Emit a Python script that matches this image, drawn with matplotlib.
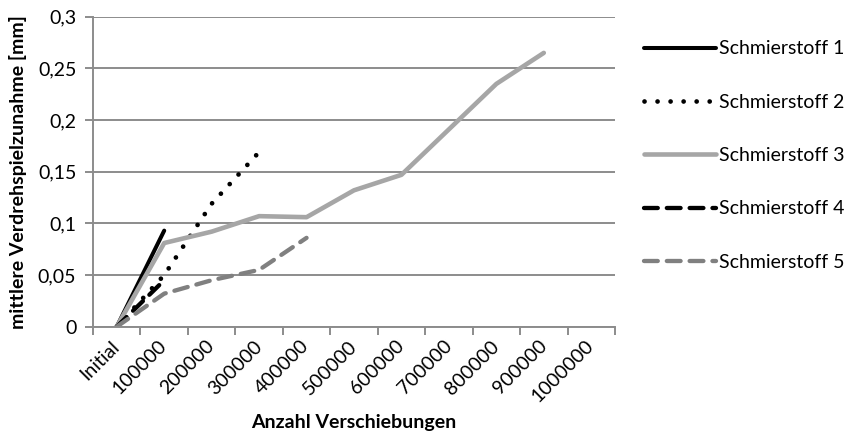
import matplotlib
matplotlib.use("Agg")
import matplotlib.pyplot as plt
import numpy as np

# category axis (Excel style: values sit in the middle of each category)
categories = ["Initial", "100000", "200000", "300000", "400000", "500000",
              "600000", "700000", "800000", "900000", "1000000"]

schmier_1 = [0, 0.093]
schmier_2 = [0, 0.050, 0.119, 0.169]
schmier_3 = [0, 0.081, 0.092, 0.107, 0.106, 0.132, 0.147, 0.191, 0.235, 0.265]
schmier_4 = [0, 0.045]
schmier_5 = [0, 0.032, 0.045, 0.055, 0.086]

y_ticks = [0, 0.05, 0.1, 0.15, 0.2, 0.25, 0.3]
y_tick_labels = ["0", "0,05", "0,1", "0,15", "0,2", "0,25", "0,3"]

GRID = "#8C8C8C"
LIGHT = "#A6A6A6"
MID = "#808080"

plt.rcParams.update({
    "font.family": ["Lato", "DejaVu Sans"],
    "font.size": 14,
})

SERIES = [
    ("Schmierstoff 1", schmier_1, dict(color="black", lw=2.9, ls="-")),
    ("Schmierstoff 2", schmier_2, dict(color="black", lw=3.4, ls=(0, (0.01, 2.75)),
                                       dash_capstyle="round")),
    ("Schmierstoff 3", schmier_3, dict(color=LIGHT, lw=3.3, ls="-")),
    ("Schmierstoff 4", schmier_4, dict(color="black", lw=3.1, ls=(0, (3.2, 2.1)),
                                       dash_capstyle="round")),
    ("Schmierstoff 5", schmier_5, dict(color=MID, lw=3.1, ls=(0, (3.2, 2.1)),
                                       dash_capstyle="round")),
]

fig = plt.figure(figsize=(8.52, 4.34), dpi=100)
ax = fig.add_axes([0.1092, 0.2472, 0.6126, 0.7143])

for label, vals, style in SERIES:
    ax.plot(np.arange(len(vals)), vals, label=label, solid_capstyle="round",
            solid_joinstyle="round", **style)

ax.set_xlim(-0.5, len(categories) - 0.5)
ax.set_ylim(0, 0.3)

ax.set_yticks(y_ticks)
ax.set_yticklabels(y_tick_labels)
ax.yaxis.grid(True, color=GRID, lw=1.4)
ax.set_axisbelow(True)

# ticks on category boundaries, labels in the middle
ax.set_xticks(np.arange(-0.5, len(categories)), minor=False)
ax.set_xticklabels([])
ax.set_xticks(np.arange(len(categories)), minor=True)
ax.set_xticklabels(categories, minor=True, rotation=45, ha="right",
                   va="center", rotation_mode="anchor")
ax.tick_params(axis="x", which="minor", length=0, pad=12)
ax.tick_params(axis="x", which="major", length=6, width=1.4, color=GRID,
               direction="out")
ax.tick_params(axis="y", length=6, width=1.4, color=GRID, direction="out", pad=6)

for side in ["top", "right"]:
    ax.spines[side].set_visible(False)
for side in ["left", "bottom"]:
    ax.spines[side].set_color(GRID)
    ax.spines[side].set_linewidth(1.4)

ax.set_xlabel("Anzahl Verschiebungen", fontweight="bold", labelpad=6)
ax.set_ylabel("mittlere Verdrehspielzunahme [mm]", fontweight="bold", labelpad=8)

fig.legend(loc="upper left", bbox_to_anchor=(0.7467, 0.925), frameon=False,
           handlelength=3.7, handletextpad=0.15, labelspacing=1.87,
           borderaxespad=0)

fig.savefig("out.png", dpi=100)
